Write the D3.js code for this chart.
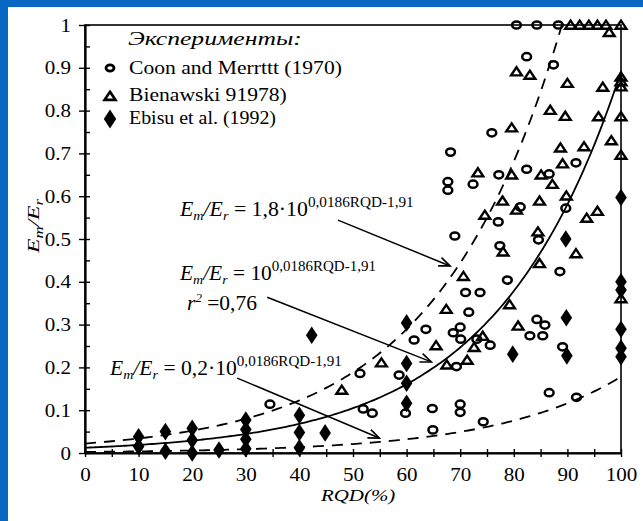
<!DOCTYPE html>
<html>
<head>
<meta charset="utf-8">
<script src="https://cdn.jsdelivr.net/npm/d3@7"></script>
<style>
  html, body { margin: 0; padding: 0; background: #0867c2; }
  svg { display: block; }
  svg text { font-family: "Liberation Serif", "Times New Roman", Times, serif; }
</style>
</head>
<body>
<svg id="chart" width="643" height="521"></svg>
<script>
// ---------- data: [RQD %, Em/Er] ----------
const coonMerritt = [
  [80.5,1.0],[84.3,1.0],[88.3,1.0],[82.4,0.926],[87.4,0.907],[75.9,0.748],[68.2,0.703],
  [67.7,0.634],[67.7,0.614],[72.4,0.628],[77.2,0.650],[82.4,0.663],[86.6,0.652],[91.6,0.678],
  [81.2,0.575],[89.7,0.572],[77.1,0.540],[69.0,0.507],[77.4,0.484],[84.6,0.498],[88.6,0.424],
  [78.8,0.404],[71.0,0.375],[73.7,0.375],[71.6,0.329],[63.6,0.289],[61.4,0.264],[70.0,0.294],
  [68.7,0.281],[70.1,0.266],[73.1,0.266],[75.6,0.252],[84.3,0.312],[85.8,0.299],[83.0,0.274],
  [85.4,0.274],[89.1,0.248],[69.3,0.202],[58.6,0.182],[51.3,0.186],[51.9,0.103],[53.6,0.093],
  [59.8,0.093],[64.8,0.104],[70.0,0.114],[70.0,0.095],[64.9,0.054],[74.3,0.073],[86.6,0.141],
  [91.7,0.130],[34.5,0.114]
];
const bieniawski = [
  [90.6,1.0],[92.3,1.0],[94.0,1.0],[95.6,1.0],[97.2,1.0],[100,1.0],[97.8,0.983],
  [80.5,0.891],[83.0,0.883],[90.0,0.864],[96.6,0.855],[100,0.879],[100,0.868],[100,0.856],
  [86.8,0.801],[89.6,0.787],[95.8,0.786],[100,0.786],[79.6,0.760],[98.2,0.730],[100,0.696],
  [88.7,0.713],[93.1,0.716],[89.1,0.676],[73.3,0.655],[79.6,0.650],[85.1,0.650],[87.2,0.628],
  [89.8,0.601],[77.9,0.589],[84.8,0.589],[80.5,0.568],[74.6,0.556],[93.6,0.549],[95.6,0.565],
  [84.5,0.517],[78.0,0.470],[91.6,0.466],[84.8,0.443],[70.6,0.413],[67.4,0.336],[79.2,0.347],
  [80.8,0.297],[65.5,0.251],[74.2,0.273],[72.6,0.247],[71.3,0.217],[67.5,0.206],[55.3,0.211],
  [47.9,0.147],[100,0.361]
];
const ebisu = [
  [10,0.038],[10,0.015],[15,0.050],[15,0.004],[20,0.058],[20,0.030],[20,0.0],[25,0.007],
  [30,0.077],[30,0.055],[30,0.032],[30,0.010],[40,0.088],[40,0.048],[40,0.012],[42.3,0.275],
  [44.8,0.047],[60,0.304],[60,0.209],[60,0.163],[60,0.116],[79.8,0.231],[89.7,0.500],
  [89.8,0.316],[89.9,0.227],[100,0.597],[100,0.400],[100,0.381],[100,0.289],[100,0.245],
  [100,0.225]
];

const xTickValues = [0,10,20,30,40,50,60,70,80,90,100];
const xTickLabels = ["0","10","20","30","40","50","60","70","80","90","100"];
const xMinorTicks = [5,15,25,35,45,55,65,75,85,95];
const yTickValues = [0,0.1,0.2,0.3,0.4,0.5,0.6,0.7,0.8,0.9,1];
const yTickLabels = ["0","0.1","0.2","0.3","0.4","0.5","0.6","0.7","0.8","0.9","1"];
const yMinorTicks = [0.05,0.15,0.25,0.35,0.45,0.55,0.65,0.75,0.85,0.95];

const seriesNames = ["Coon and Merrttt (1970)", "Bienawski 91978)", "Ebisu et al. (1992)"];
const legendTitle = "Эксперименты:";

// Em/Er = k * 10^(a*RQD + b)
const fitFactors = [1.8, 1, 0.2];
const fitSlope = 0.0186;
const fitIntercept = -1.91;
const fitExponentText = "0,0186RQD-1,91";
const fitFactorText = ["1,8·10", "10", "0,2·10"];
const rSquaredText = "=0,76";

// ---------- drawing ----------
const W = 643, H = 521;
const FONT = "'Liberation Serif','Times New Roman',Times,serif";
const INK = "#000";
const svg = d3.select("#chart");

svg.append("rect").attr("width", W).attr("height", H).attr("fill", "#0867c2");
svg.append("rect").attr("x", 8).attr("y", 7).attr("width", W - 8).attr("height", H - 7).attr("fill", "#fff");

const x = d3.scaleLinear().domain([0, 100]).range([85, 621]);
const y = d3.scaleLinear().domain([0, 1]).range([453, 25]);

// stretch a text node horizontally so it spans `target` px
function stretchTo(textSel, target) {
  const w = textSel.node().getBBox().width;
  textSel.attr("transform", `scale(${target / w},1)`);
}

// frame (top/right)
svg.append("rect")
  .attr("x", x(0)).attr("y", y(1))
  .attr("width", x(100) - x(0)).attr("height", y(0) - y(1))
  .attr("fill", "none").attr("stroke", INK).attr("stroke-width", 1.6);

// y axis
const TSX = 1.17;
const gy = svg.append("g").attr("transform", `translate(${x(0)},0)`)
  .call(d3.axisLeft(y).tickValues(yTickValues).tickFormat((d, i) => yTickLabels[i]).tickSizeOuter(0).tickSizeInner(6));
gy.attr("font-family", FONT);
gy.select(".domain").attr("stroke", INK).attr("stroke-width", 2.2);
gy.selectAll(".tick line").attr("x1", 5).attr("x2", -6).attr("stroke", INK).attr("stroke-width", 1.4);
gy.selectAll(".tick text")
  .attr("x", -14 / TSX).attr("dy", "0.34em")
  .attr("transform", `scale(${TSX},1)`)
  .attr("fill", INK).style("font-family", FONT).style("font-size", "18px");
const gyMinor = svg.append("g").attr("transform", `translate(${x(0)},0)`)
  .call(d3.axisLeft(y).tickValues(yMinorTicks).tickFormat("").tickSizeOuter(0).tickSizeInner(-5));
gyMinor.select(".domain").remove();
gyMinor.selectAll(".tick line").attr("stroke", INK).attr("stroke-width", 1.4);

// x axis
const gx = svg.append("g").attr("transform", `translate(0,${y(0)})`)
  .call(d3.axisBottom(x).tickValues(xTickValues).tickFormat((d, i) => xTickLabels[i]).tickSizeOuter(0).tickSizeInner(4));
gx.attr("font-family", FONT);
gx.select(".domain").attr("stroke", INK).attr("stroke-width", 2.2);
gx.selectAll(".tick line").attr("y1", -4).attr("y2", 4).attr("stroke", INK).attr("stroke-width", 1.4);
gx.selectAll(".tick text")
  .attr("y", 28).attr("dy", 0)
  .attr("transform", `scale(${TSX},1)`)
  .attr("fill", INK).style("font-family", FONT).style("font-size", "18px");
const gxMinor = svg.append("g").attr("transform", `translate(0,${y(0)})`)
  .call(d3.axisBottom(x).tickValues(xMinorTicks).tickFormat("").tickSizeOuter(0).tickSizeInner(4));
gxMinor.select(".domain").remove();
gxMinor.selectAll(".tick line").attr("y1", -4).attr("y2", 4).attr("stroke", INK).attr("stroke-width", 1.4);

// axis titles
const xt = svg.append("g").attr("transform", "translate(321,501)")
  .append("text").style("font-family", FONT).attr("font-size", 17).attr("font-style", "italic").attr("fill", INK)
  .text("RQD(%)");
stretchTo(xt, 76);

const yt = svg.append("g").attr("transform", "translate(39,226) rotate(-90)")
  .append("text").style("font-family", FONT).attr("font-size", 17).attr("font-style", "italic")
  .attr("fill", INK).attr("text-anchor", "middle");
yt.append("tspan").text("E");
yt.append("tspan").text("m").attr("font-size", 12).attr("dy", 4);
yt.append("tspan").text("/").attr("dy", -4);
yt.append("tspan").text("E");
yt.append("tspan").text("r").attr("font-size", 12).attr("dy", 4);
stretchTo(yt, 56);

// fitted curves
svg.append("clipPath").attr("id", "plot-clip")
  .append("rect").attr("x", x(0)).attr("y", y(1)).attr("width", x(100) - x(0)).attr("height", y(0) - y(1));
const rqdSamples = d3.range(0, 100.001, 0.5);
const curve = d3.line().x(d => x(d[0])).y(d => y(d[1]));
const curveDash = ["11,8", null, "11,8"];
fitFactors.forEach((k, i) => {
  const pts = rqdSamples.map(r => [r, k * Math.pow(10, fitSlope * r + fitIntercept)]);
  svg.append("path")
    .attr("clip-path", "url(#plot-clip)")
    .attr("d", curve(pts))
    .attr("fill", "none").attr("stroke", INK).attr("stroke-width", 1.8)
    .attr("stroke-dasharray", curveDash[i]);
});

// markers
const triPath = "M0,-4.4 L5.4,3.7 L-5.4,3.7 Z";
const diamondPath = (hw, hh) => `M0,${-hh} L${hw},0 L0,${hh} L${-hw},0 Z`;

svg.append("g").selectAll("ellipse").data(coonMerritt).join("ellipse")
  .attr("cx", d => x(d[0])).attr("cy", d => y(d[1]))
  .attr("rx", 4.4).attr("ry", 3.6)
  .attr("fill", "none").attr("stroke", INK).attr("stroke-width", 2.5);

svg.append("g").selectAll("path").data(bieniawski).join("path")
  .attr("transform", d => `translate(${x(d[0])},${y(d[1])})`)
  .attr("d", triPath)
  .attr("fill", "none").attr("stroke", INK).attr("stroke-width", 2.4).attr("stroke-linejoin", "miter");

svg.append("g").selectAll("path").data(ebisu).join("path")
  .attr("transform", d => `translate(${x(d[0])},${y(d[1])})`)
  .attr("d", diamondPath(5.8, 8.8))
  .attr("fill", INK);

// legend
const lt = svg.append("g").attr("transform", "translate(128,45)")
  .append("text").style("font-family", FONT).attr("font-size", 18).attr("font-style", "italic").attr("fill", INK)
  .text(legendTitle);
stretchTo(lt, 174);

const legendRows = [
  { cy: 68, base: 74, width: 213 },
  { cy: 96, base: 101, width: 158 },
  { cy: 119, base: 124, width: 147 }
];
svg.append("ellipse").attr("cx", 110).attr("cy", legendRows[0].cy).attr("rx", 4).attr("ry", 3.2)
  .attr("fill", "none").attr("stroke", INK).attr("stroke-width", 2.8);
svg.append("path").attr("transform", `translate(110,${legendRows[1].cy})`).attr("d", "M0,-4.2 L5.4,3.8 L-5.4,3.8 Z")
  .attr("fill", "none").attr("stroke", INK).attr("stroke-width", 2.7);
svg.append("path").attr("transform", `translate(110,${legendRows[2].cy})`).attr("d", diamondPath(6.2, 9.6))
  .attr("fill", INK);
seriesNames.forEach((name, i) => {
  const t = svg.append("g").attr("transform", `translate(129,${legendRows[i].base})`)
    .append("text").style("font-family", FONT).attr("font-size", 18).attr("fill", INK).text(name);
  stretchTo(t, legendRows[i].width);
});

// equation labels
function equation(left, base, factorText, width) {
  const t = svg.append("g").attr("transform", `translate(${left},${base})`)
    .append("text").style("font-family", FONT).attr("font-size", 20).attr("fill", INK);
  t.append("tspan").text("E").attr("font-style", "italic");
  t.append("tspan").text("m").attr("font-style", "italic").attr("font-size", 13).attr("dy", 4);
  t.append("tspan").text("/").attr("font-style", "italic").attr("dy", -4);
  t.append("tspan").text("E").attr("font-style", "italic");
  t.append("tspan").text("r").attr("font-style", "italic").attr("font-size", 13).attr("dy", 4);
  t.append("tspan").text(" = " + factorText).attr("dy", -4);
  t.append("tspan").text(fitExponentText).attr("font-size", 14).attr("dy", -9.5);
  stretchTo(t, width);
}
equation(180, 216, fitFactorText[0], 235);
equation(180, 280, fitFactorText[1], 197);
equation(110, 375, fitFactorText[2], 233);

const r2 = svg.append("g").attr("transform", "translate(187,310)")
  .append("text").style("font-family", FONT).attr("font-size", 20).attr("fill", INK);
r2.append("tspan").text("r").attr("font-style", "italic");
r2.append("tspan").text("2").attr("font-style", "italic").attr("font-size", 12).attr("dy", -8);
r2.append("tspan").text(" " + rSquaredText).attr("dy", 8);
stretchTo(r2, 70);

// arrows from labels to curves (data units)
svg.append("defs").append("marker")
  .attr("id", "arrow").attr("markerUnits", "userSpaceOnUse")
  .attr("markerWidth", 14).attr("markerHeight", 12)
  .attr("refX", 12).attr("refY", 5).attr("orient", "auto")
  .append("path").attr("d", "M1,0.5 L12,5 L1,9.5")
  .attr("fill", "none").attr("stroke", INK).attr("stroke-width", 1.7);
const arrows = [
  [[47.2, 0.544], [68.1, 0.437]],
  [[34.0, 0.364], [64.6, 0.213]],
  [[28.4, 0.175], [54.9, 0.035]]
];
svg.append("g").selectAll("line").data(arrows).join("line")
  .attr("x1", d => x(d[0][0])).attr("y1", d => y(d[0][1]))
  .attr("x2", d => x(d[1][0])).attr("y2", d => y(d[1][1]))
  .attr("stroke", INK).attr("stroke-width", 1.5)
  .attr("marker-end", "url(#arrow)");
</script>
</body>
</html>
